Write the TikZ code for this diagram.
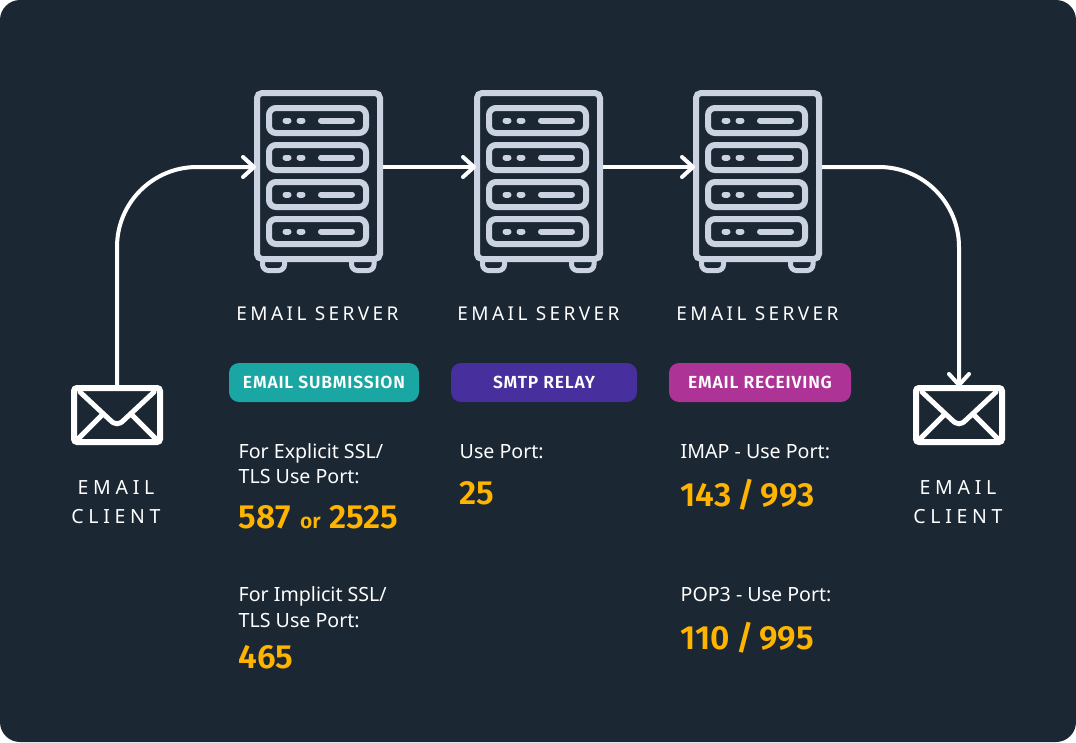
\documentclass[tikz,border=0pt]{standalone}
\usepackage{fontspec}
\setmainfont{Noto Sans}
\newfontfamily\spaced{Noto Sans}[LetterSpace=18]
\newfontfamily\spacedwide{Noto Sans}[LetterSpace=24]
\newfontfamily\heavy{Fira Sans SemiBold}
\newfontfamily\heavyspaced{Fira Sans SemiBold}[LetterSpace=4.5]
\usetikzlibrary{arrows.meta}
\definecolor{bgc}{HTML}{1B2733}
\definecolor{icon}{HTML}{CBD3E3}
\definecolor{teal1}{HTML}{1AA6A3}
\definecolor{purp1}{HTML}{482F9E}
\definecolor{mag1}{HTML}{AE3397}
\definecolor{gold1}{HTML}{FFB400}
\tikzset{
  srv/.style={draw=icon,line width=6pt,rounded corners=5pt,minimum width=123pt,minimum height=166pt,inner sep=0pt},
  unitbox/.style={draw=icon,line width=6pt,rounded corners=7pt},
  foot/.style={draw=icon,line width=5pt,rounded corners=6pt},
  led/.style={draw=icon,line width=6pt,line cap=round},
  env/.style={draw=white,line width=6pt,rounded corners=3pt,minimum width=86pt,minimum height=54pt,inner sep=0pt},
  flap/.style={draw=white,line width=5pt,line cap=round},
  conn/.style={draw=white,line width=4pt,shorten >=-2pt,-{Straight Barb[length=11pt,width=20pt,line width=4pt,round]}},
  captext/.style={text=white,font=\spaced\fontsize{19}{19}\selectfont,align=center,inner sep=0pt},
  clienttext/.style={text=white,font=\spacedwide\fontsize{19.5}{19.5}\selectfont,align=center,inner sep=0pt},
  pill/.style={rounded corners=10pt,minimum height=39pt,inner sep=0pt,text=white,font=\heavyspaced\fontsize{17.5}{17.5}\selectfont},
  bodytext/.style={text=white,anchor=base west,inner sep=0pt,font=\fontsize{19.6}{19.6}\selectfont},
  port/.style={text=gold1,anchor=base west,inner sep=0pt,font=\heavy\fontsize{33.5}{33.5}\selectfont},
}
\newcommand{\slashgap}{\hspace{6pt}/\hspace{6pt}}
\begin{document}
\begin{tikzpicture}[x=1pt,y=-1pt]
\useasboundingbox (0,0) rectangle (1076,742);
\fill[white] (0,0) rectangle (1076,742);
\fill[bgc,rounded corners=20pt] (0,0) rectangle (1076,742);
\foreach \n/\x in {s1/254,s2/474,s3/693}{
  \begin{scope}[shift={(\x,0)}]
    \draw[foot] (8.5,258) -- (8.5,270.5) -- (30.5,270.5) -- (30.5,258);
    \draw[foot] (97.5,258) -- (97.5,270.5) -- (120,270.5) -- (120,258);
    \foreach \y in {120.5,157.5,194.5,231.5}{
      \draw[unitbox] (15,\y-12.5) rectangle (112,\y+12.5);
      \draw[led] (31.5,\y) -- (34.5,\y);
      \draw[led] (45.5,\y) -- (48.5,\y);
      \draw[led] (67,\y) -- (98,\y);
    }
  \end{scope}
  \node[srv] (\n) at (\x+64.5,176) {};
}
\foreach \n/\x in {e1/117,e2/959}{
  \node[env] (\n) at (\x,415) {};
  \begin{scope}[shift={(\x,0)}]
    \draw[flap] (-37,392) -- (-7,420) .. controls (-2,425) and (2,425) .. (7,420) -- (37,392);
    \draw[flap] (-14,414) -- (-39,439);
    \draw[flap] (14,414) -- (39,439);
  \end{scope}
}
\draw[conn,rounded corners=80pt] (e1.north) |- ([yshift=9pt]s1.west);
\draw[conn] ([yshift=9pt]s1.east) -- ([yshift=9pt]s2.west);
\draw[conn] ([yshift=9pt]s2.east) -- ([yshift=9pt]s3.west);
\draw[conn,rounded corners=80pt] ([yshift=9pt]s3.east) -| (e2.north);

\node[captext] (c1) at (317.5,314) {EMAIL SERVER};
\node[captext] (c2) at (538.5,314) {EMAIL SERVER};
\node[captext] (c3) at (757.5,314) {EMAIL SERVER};
\node[clienttext] (c4) at (116,488) {EMAIL};
\node[clienttext] (c5) at (116,517) {CLIENT};
\node[clienttext] (c6) at (958,488) {EMAIL};
\node[clienttext] (c7) at (958,517) {CLIENT};

\node[pill,fill=teal1,minimum width=190pt] (p1) at (324,382.5) {EMAIL SUBMISSION};
\node[pill,fill=purp1,minimum width=186pt] (p2) at (544,382.5) {SMTP RELAY};
\node[pill,fill=mag1,minimum width=182pt] (p3) at (760,382.5) {EMAIL RECEIVING};

\node[bodytext] (t1) at (238.5,458) {For Explicit SSL/};
\node[bodytext] (t2) at (238.5,483) {TLS Use Port:};
\node[port] (n1) at (238.5,528) {587\hspace{9.5pt}{\fontsize{21}{21}\selectfont or}\hspace{8.5pt}2525};
\node[bodytext] (t3) at (238.5,601) {For Implicit SSL/};
\node[bodytext] (t4) at (238.5,627) {TLS Use Port:};
\node[port] (n2) at (238.5,668) {465};
\node[bodytext] (t5) at (459.5,458) {Use Port:};
\node[port] (n3) at (459.5,504) {25};
\node[bodytext] (t6) at (680.5,458) {IMAP - Use Port:};
\node[port] (n4) at (680.5,506) {143\slashgap 993};
\node[bodytext] (t7) at (680.5,601) {POP3 - Use Port:};
\node[port] (n5) at (680.5,649) {110\slashgap 995};
\end{tikzpicture}
\end{document}
